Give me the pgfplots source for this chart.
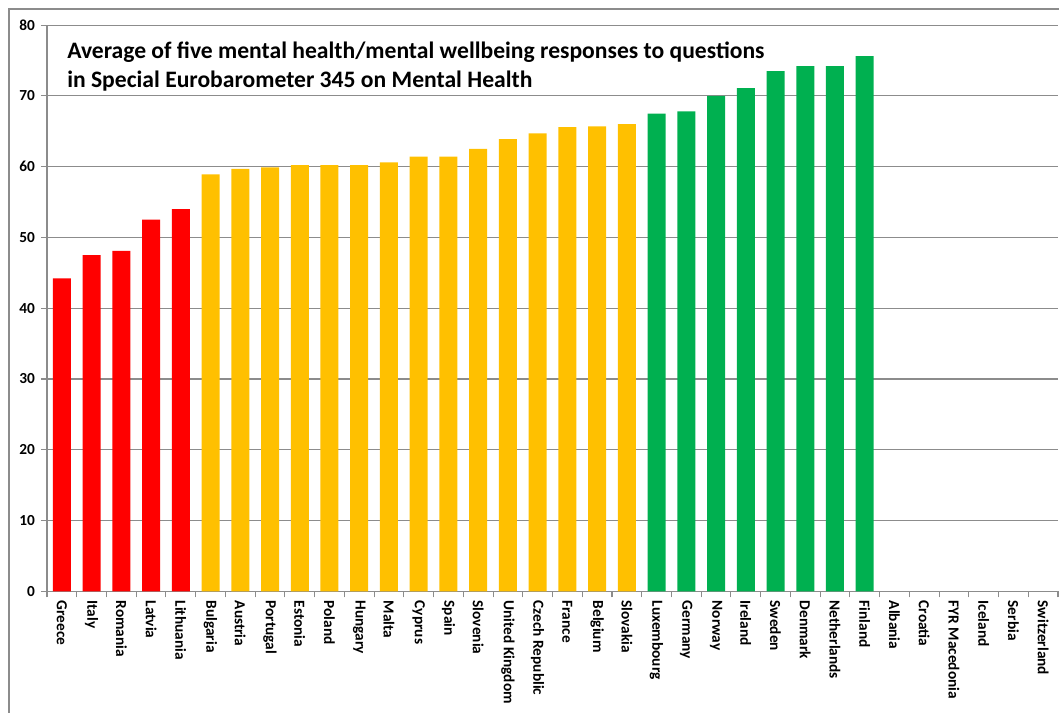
\documentclass[border=0pt]{standalone}
\usepackage{pgfplots}
\pgfplotsset{compat=1.18}
\usepackage{fontspec}
\setmainfont{Carlito}
\definecolor{cred}{HTML}{FF0000}
\definecolor{camber}{HTML}{FFC000}
\definecolor{cgreen}{HTML}{00B050}
\definecolor{gridgray}{HTML}{8C8C8C}
\begin{document}
\begin{tikzpicture}
\useasboundingbox (0pt,0pt) rectangle (794.25pt,-534.75pt);
\draw[gridgray, line width=0.8pt] (6.75pt,-560pt) -- (6.75pt,-6.75pt) -- (820pt,-6.75pt);
\begin{axis}[
  at={(35.25pt,-443.5pt)}, anchor=south west,
  scale only axis, width=758.25pt, height=424.7pt,
  xmin=-0.5, xmax=33.5, ymin=0, ymax=80,
  ytick={0,10,...,80},
  xtick={0,...,33},
  minor xtick={-0.5,0.5,...,33.5},
  xticklabels={Greece,Italy,Romania,Latvia,Lithuania,Bulgaria,Austria,Portugal,Estonia,Poland,Hungary,Malta,Cyprus,Spain,Slovenia,United Kingdom,Czech Republic,France,Belgium,Slovakia,Luxembourg,Germany,Norway,Ireland,Sweden,Denmark,Netherlands,Finland,Albania,Croatia,FYR Macedonia,Iceland,Serbia,Switzerland},
  axis x line*=bottom, axis y line*=left,
  axis line style={gridgray, line width=0.8pt, -},
  tick align=outside,
  major x tick style={draw=none},
  minor x tick style={gridgray, line width=0.8pt},
  minor tick length=4.5pt,
  major tick length=4.5pt,
  y tick style={gridgray, line width=0.8pt},
  ymajorgrids, grid style={gridgray, line width=0.8pt},
  /pgf/number format/assume math mode=true,
  yticklabel style={font=\bfseries\fontsize{11.5}{13}\selectfont, black, xshift=-1pt},
  xticklabel style={font=\bfseries\fontsize{11.5}{13}\selectfont, black, rotate=-90, anchor=west, xshift=-1pt},
  ybar, bar width=13.5pt, bar shift=0pt,
  clip=false,
]
\addplot[fill=cred, draw=none] coordinates {(0,44.2) (1,47.5) (2,48.1) (3,52.5) (4,54.0)};
\addplot[fill=camber, draw=none] coordinates {(5,58.9) (6,59.7) (7,59.9) (8,60.2) (9,60.2) (10,60.2) (11,60.6) (12,61.4) (13,61.4) (14,62.5) (15,63.9) (16,64.7) (17,65.6) (18,65.7) (19,66.0)};
\addplot[fill=cgreen, draw=none] coordinates {(20,67.5) (21,67.8) (22,70.0) (23,71.1) (24,73.5) (25,74.2) (26,74.2) (27,75.6)};
\end{axis}
\node[anchor=base west, inner sep=0pt, font=\bfseries\fontsize{17.7}{20}\selectfont] at (50.25pt,-43.8pt) {Average of five mental health/mental wellbeing responses to questions};
\node[anchor=base west, inner sep=0pt, font=\bfseries\fontsize{17.7}{20}\selectfont] at (50.25pt,-65.5pt) {in Special Eurobarometer 345 on Mental Health};
\end{tikzpicture}
\end{document}
